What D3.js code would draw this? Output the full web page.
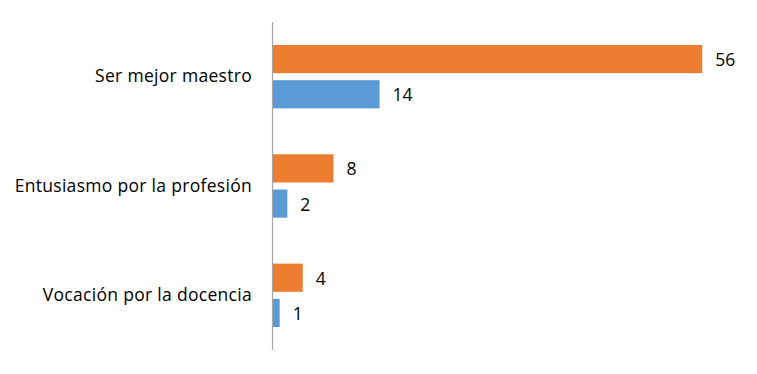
<!DOCTYPE html>
<html>
<head>
<meta charset="utf-8">
<script src="https://cdn.jsdelivr.net/npm/d3@7"></script>
<style>
  body { margin: 0; background: #fff; }
  svg { display: block; }
</style>
</head>
<body>
<svg id="chart" width="757" height="374"></svg>
<script>
const categories = ["Ser mejor maestro", "Entusiasmo por la profesión", "Vocación por la docencia"];
const seriesNames = ["orange", "blue"];
const orangeValues = [56, 8, 4];
const blueValues = [14, 2, 1];
const colors = { orange: "#ED7D31", blue: "#5B9BD5" };

const svg = d3.select("#chart");
const width = 757;
const height = 374;
const margin = { top: 22, right: 24, bottom: 24, left: 272 };

const data = categories.map((c, i) => ({
  category: c,
  values: [
    { key: "orange", value: orangeValues[i] },
    { key: "blue", value: blueValues[i] },
  ],
}));

const x = d3.scaleLinear().domain([0, 60]).range([margin.left, width - margin.right]);

const y = d3
  .scaleBand()
  .domain(categories)
  .range([margin.top, height - margin.bottom])
  .paddingInner(0.42)
  .paddingOuter(0.21);

const ySub = d3.scaleBand().domain(seriesNames).range([0, y.bandwidth()]).paddingInner(0.2);

const font = "'Open Sans', sans-serif";
const fontSize = "17.5px";

// bars
const groups = svg
  .selectAll(".group")
  .data(data)
  .join("g")
  .attr("class", "group")
  .attr("transform", (d) => `translate(0,${y(d.category)})`);

groups
  .selectAll("rect")
  .data((d) => d.values)
  .join("rect")
  .attr("x", x(0))
  .attr("y", (d) => ySub(d.key))
  .attr("width", (d) => x(d.value) - x(0))
  .attr("height", ySub.bandwidth())
  .attr("fill", (d) => colors[d.key]);

groups
  .selectAll("text")
  .data((d) => d.values)
  .join("text")
  .attr("x", (d) => x(d.value) + 13)
  .attr("y", (d) => ySub(d.key) + ySub.bandwidth() / 2)
  .attr("dominant-baseline", "central")
  .attr("font-family", font)
  .attr("font-size", fontSize)
  .attr("fill", "#000")
  .text((d) => d.value);

// category axis
const yAxis = svg
  .append("g")
  .attr("transform", `translate(${x(0)},0)`)
  .call(d3.axisLeft(y).tickSize(0).tickPadding(20));

yAxis.select(".domain").attr("stroke", "#A6A6A6").attr("stroke-width", 1.2)
  .attr("d", `M0.5,${margin.top}V${height - margin.bottom}`);
yAxis
  .selectAll(".tick text")
  .attr("font-family", font)
  .attr("font-size", fontSize)
  .attr("letter-spacing", "0.3px")
  .attr("fill", "#000");
</script>
</body>
</html>
